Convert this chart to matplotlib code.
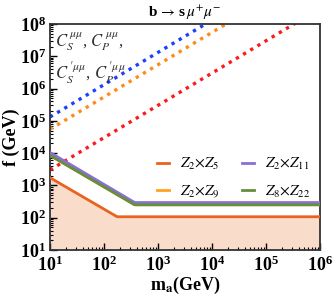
import numpy as np
import matplotlib
matplotlib.use("Agg")
import matplotlib.pyplot as plt
from matplotlib.ticker import LogLocator, NullFormatter

plt.rcParams['font.family'] = ['Liberation Serif', 'DejaVu Serif']
plt.rcParams['mathtext.fontset'] = 'stix'

# dotted lines: f proportional to m_a, value of log10 f at m_a = 10
dot_names = ['blue', 'orange', 'red']
dot_colors = ['#1f3fff', '#ff8c1a', '#ff1a1a']
dot_logf10 = [5.12, 4.74, 3.48]

# solid bounds: log10 f at m_a=10, kink m_a, plateau log10 f
bound_labels = [r'$Z_2{\times}Z_5$', r'$Z_2{\times}Z_9$', r'$Z_2{\times}Z_{11}$', r'$Z_8{\times}Z_{22}$']
bound_colors = ['#e8641e', '#ffa41a', '#8c6cd8', '#62903c']
bound_start = [3.24, 3.93, 4.02, 3.93]
bound_kink = [175, 370, 370, 370]
bound_plateau = [2.03, 2.40, 2.47, 2.40]

fig = plt.figure(figsize=(3.32, 2.95), dpi=100)
ax = fig.add_axes([50/332, 45/295, 270/332, 226/295])

m = np.logspace(1, 6, 400)

for c, l0 in zip(dot_colors, dot_logf10):
    f = 10**l0 * (m / 10)
    ax.plot(m, f, color=c, ls=(0, (1, 1.5)), lw=2.4)

curves = []
for s, k, p in zip(bound_start, bound_kink, bound_plateau):
    f = np.where(m < k, 10**s * (m / 10)**((p - s) / np.log10(k / 10)), 10**p)
    curves.append(f)

ax.fill_between(m, 10, curves[0], color='#fadccb', lw=0, zorder=1)

lines = []
for i in range(4):
    ln, = ax.plot(m, curves[i], color=bound_colors[i], lw=2, zorder=3, label=bound_labels[i])
    lines.append(ln)

ax.set_xscale('log')
ax.set_yscale('log')
ax.set_xlim(10, 1e6)
ax.set_ylim(10, 1e8)

ax.xaxis.set_major_locator(LogLocator(base=10, numticks=10))
ax.yaxis.set_major_locator(LogLocator(base=10, numticks=10))
ax.xaxis.set_minor_locator(LogLocator(base=10, subs=np.arange(2, 10), numticks=20))
ax.yaxis.set_minor_locator(LogLocator(base=10, subs=np.arange(2, 10), numticks=20))
ax.xaxis.set_minor_formatter(NullFormatter())
ax.yaxis.set_minor_formatter(NullFormatter())
ax.tick_params(which='both', direction='in', top=False, right=False)
ax.tick_params(which='major', length=5, width=1, labelsize=13)
ax.tick_params(axis='x', which='major', pad=4)
ax.tick_params(axis='y', which='major', pad=3)
ax.tick_params(which='minor', length=2.5, width=0.8)
for lab in ax.get_xticklabels() + ax.get_yticklabels():
    lab.set_fontweight('bold')
for sp in ax.spines.values():
    sp.set_color('#333333')
    sp.set_linewidth(1.3)

ax.set_xlabel(r'm$_\mathbf{a}$(GeV)', fontsize=13, fontweight='bold', labelpad=0)
ax.set_ylabel('f (GeV)', fontsize=13, fontweight='bold', labelpad=0)
ax.set_title(r'b$\,\rightarrow\,$s$\,\mu^{+}\mu^{-}$', fontsize=11, fontweight='bold', pad=5)

ax.text(0.02, 0.975, r'$C_S^{\,\mu\mu}$, $C_P^{\,\mu\mu}$,', transform=ax.transAxes,
        fontsize=12, color='#333333', va='top', ha='left')
ax.text(0.02, 0.845, r"$C_S^{\,\prime\mu\mu}$, $C_P^{\,\prime\mu\mu}$", transform=ax.transAxes,
        fontsize=12, color='#333333', va='top', ha='left')

ax.legend(handles=lines, ncol=2, loc='lower right',
          bbox_to_anchor=(1.015, 0.16), frameon=False, fontsize=11, handlelength=0.8,
          columnspacing=1.5, labelspacing=0.75, handletextpad=0.7)

fig.savefig('out.png', dpi=100)
